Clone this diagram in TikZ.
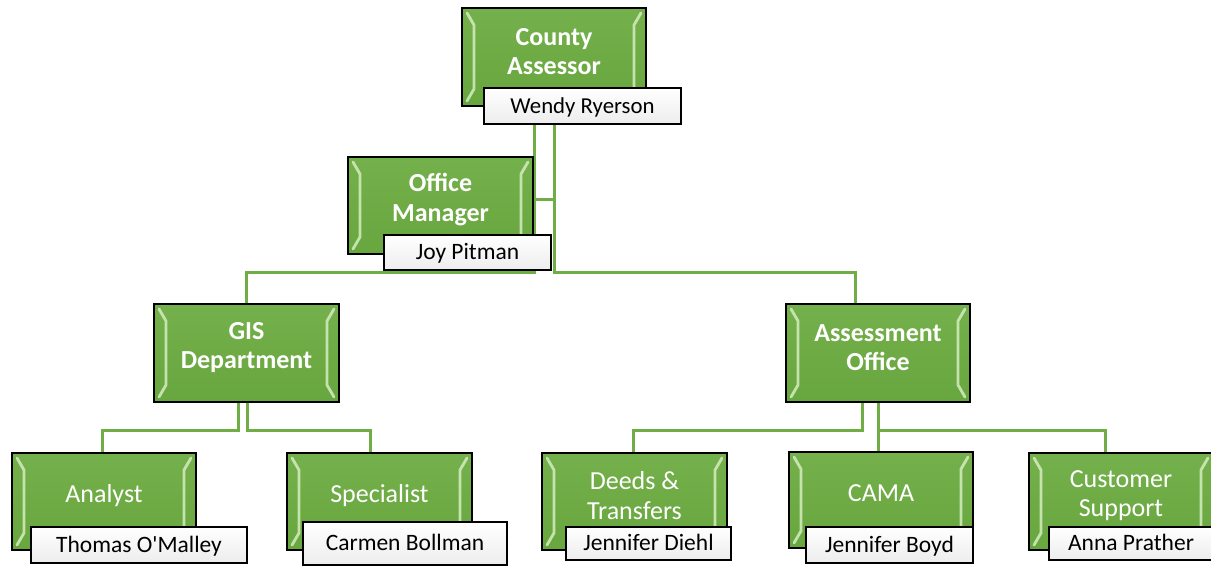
\documentclass[tikz,border=0pt]{standalone}
\usepackage{fontspec}
\setmainfont{Carlito}
\newfontfamily\nmfont{Carlito}
\usetikzlibrary{calc}
\pgfdeclarelayer{bgzero}
\pgfdeclarelayer{background}
\pgfsetlayers{bgzero,background,main}
\definecolor{gtop}{HTML}{74B04B}
\definecolor{gbot}{HTML}{68A63F}
\definecolor{gline}{HTML}{70AD47}
\definecolor{bevc}{HTML}{D5EDC0}
\definecolor{nbot}{HTML}{EDEDED}
\tikzset{
  gbox/.style={rectangle, draw=black, line width=1.9pt, top color=gtop, bottom color=gbot, inner sep=0pt, outer sep=0pt},
  bev/.style={draw=bevc, line width=2.8pt, line join=round, line cap=round, opacity=0.85},
  ttl/.style={text=white, align=center, inner sep=0pt, font=\fontsize{26}{29.5}\selectfont},
  ttlb/.style={ttl, font=\fontsize{26}{29.5}\selectfont\bfseries},
  namebox/.style={rectangle, draw=black, line width=1.7pt, top color=white, bottom color=nbot, inner sep=0pt, outer sep=0pt, text=black, font=\nmfont\fontsize{23.5}{27}\selectfont, text height=14.6pt, text depth=0pt},
  conn/.style={draw=gline, line width=3pt}
}
\newcommand\gbevel[1]{%
  \draw[bev] ([shift={(5,5)}]#1.north west) -- ([shift={(12,17)}]#1.north west) -- ([shift={(12,-17)}]#1.south west) -- ([shift={(5,-5)}]#1.south west);
  \draw[bev] ([shift={(-5,5)}]#1.north east) -- ([shift={(-12,17)}]#1.north east) -- ([shift={(-12,-17)}]#1.south east) -- ([shift={(-5,-5)}]#1.south east);
}
\begin{document}
\begin{tikzpicture}[x=1pt, y=-1pt]
\begin{pgfonlayer}{bgzero}
  \fill[white] (0,0) rectangle (1211,567);
\end{pgfonlayer}
\useasboundingbox (0,0) rectangle (1211,567);

% green boxes
\node[gbox, minimum width=184pt, minimum height=98pt] (ca) at (554,57) {};
\node[gbox, minimum width=185pt, minimum height=97pt] (om) at (440.5,205.5) {};
\node[gbox, minimum width=185pt, minimum height=98pt] (gis) at (246.5,353) {};
\node[gbox, minimum width=184pt, minimum height=98pt] (ao) at (878,353) {};
\node[gbox, minimum width=184pt, minimum height=97pt] (an) at (104,501.5) {};
\node[gbox, minimum width=185pt, minimum height=97pt] (sp) at (379.5,501.5) {};
\node[gbox, minimum width=185pt, minimum height=97pt] (dt) at (634.5,501.5) {};
\node[gbox, minimum width=184pt, minimum height=96pt] (cama) at (881,500) {};
\node[gbox, minimum width=184pt, minimum height=97pt] (cs) at (1121,501.5) {};

\gbevel{ca}\gbevel{om}\gbevel{gis}\gbevel{ao}\gbevel{an}\gbevel{sp}\gbevel{dt}\gbevel{cama}\gbevel{cs}

% titles
\node[ttlb] (ca-t) at ([shift={(0,-5.5)}]ca.center) {County\\Assessor};
\node[ttlb] (om-t) at ([shift={(0,-6)}]om.center) {Office\\Manager};
\node[ttlb] (gis-t) at ([shift={(0,-5.5)}]gis.center) {GIS\\Department};
\node[ttlb] (ao-t) at ([shift={(0,-5.5)}]ao.center) {Assessment\\Office};
\node[ttl] (an-t) at ([shift={(0,-6)}]an.center) {Analyst};
\node[ttl] (sp-t) at ([shift={(0,-6)}]sp.center) {Specialist};
\node[ttl] (dt-t) at ([shift={(0,-6)}]dt.center) {Deeds \&\\Transfers};
\node[ttl] (cama-t) at ([shift={(0,-7)}]cama.center) {CAMA};
\node[ttl] (cs-t) at ([shift={(0,-6)}]cs.center) {Customer\\Support};

% name boxes
\node[namebox, minimum width=197pt, minimum height=36pt, font=\nmfont\fontsize{22.8}{26}\selectfont] (wr) at (582.5,106) {Wendy Ryerson};
\node[namebox, minimum width=167pt, minimum height=35pt] (jp) at (467.5,252.5) {Joy Pitman};
\node[namebox, minimum width=216pt, minimum height=36pt] (to) at (139,545) {Thomas O'Malley};
\node[namebox, minimum width=204pt, minimum height=43pt] (cb) at (405,543.5) {Carmen Bollman};
\node[namebox, minimum width=165pt, minimum height=33pt] (jd) at (648.5,543.5) {Jennifer Diehl};
\node[namebox, minimum width=167pt, minimum height=36pt] (jb) at (889.5,545) {Jennifer Boyd};
\node[namebox, minimum width=164pt, minimum height=33pt] (ap) at (1131,543.5) {Anna Prather};

% connectors
\begin{pgfonlayer}{background}
  \draw[conn] ([xshift=-48.5pt]wr.south) -- ++(0,148) -| (gis.north);
  \draw[conn] ([xshift=-28.5pt]wr.south) -- ++(0,148) -| ([xshift=-23pt]ao.north);
  \draw[conn] ([shift={(0,-5.5)}]om.east) -- ++(21,0);
  \draw[conn] ([xshift=-8.5pt]gis.south) -- ++(0,28) -| ([xshift=-2pt]an.north);
  \draw[conn] ([xshift=0.5pt]gis.south) -- ++(0,28) -| ([xshift=-9.5pt]sp.north);
  \draw[conn] ([xshift=-16pt]ao.south) -- ++(0,28) -| ([xshift=-1.5pt]dt.north);
  \draw[conn] (ao.south) -- ++(0,28) -| ([xshift=-16pt]cs.north);
  \draw[conn] (ao.south) -- (ao.south |- cama.north);
\end{pgfonlayer}
\end{tikzpicture}
\end{document}
